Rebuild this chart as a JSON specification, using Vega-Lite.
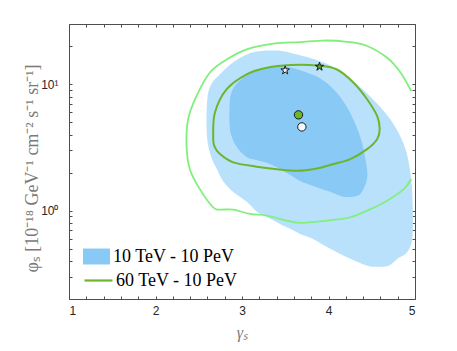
{
  "$schema": "https://vega.github.io/schema/vega-lite/v6.json",
  "autosize": "none",
  "width": 346,
  "height": 275,
  "padding": {"left": 69, "top": 24, "right": 42, "bottom": 52},
  "background": "white",
  "config": {
    "view": {"stroke": "#4d4d4d", "strokeWidth": 1},
    "axis": {"grid": false, "domain": false, "tickColor": "#4d4d4d", "tickWidth": 1, "labelFont": "Liberation Sans", "labelFontSize": 12, "labelColor": "#262626", "labelOverlap": false, "titleColor": "#7a7a7a", "titleFontWeight": "normal"}
  },
  "datasets": {
    "outer": [
      {"i":1,"x":2.591,"y":6.15},{"i":2,"x":2.606,"y":8.34},{"i":3,"x":2.652,"y":10.2},{"i":4,"x":2.745,"y":12.0},{"i":5,"x":2.896,"y":14.9},{"i":6,"x":3.128,"y":17.9},{"i":7,"x":3.406,"y":18.5},{"i":8,"x":3.638,"y":17.2},{"i":9,"x":3.904,"y":15.2},{"i":10,"x":4.136,"y":12.7},{"i":11,"x":4.368,"y":9.47},{"i":12,"x":4.601,"y":6.57},{"i":13,"x":4.774,"y":4.58},{"i":14,"x":4.89,"y":3.07},{"i":15,"x":4.948,"y":1.95},{"i":16,"x":4.971,"y":1.24},{"i":17,"x":4.971,"y":0.631},{"i":18,"x":4.913,"y":0.472},{"i":19,"x":4.797,"y":0.416},{"i":20,"x":4.693,"y":0.366},{"i":21,"x":4.565,"y":0.36},{"i":22,"x":4.449,"y":0.366},{"i":23,"x":4.252,"y":0.416},{"i":24,"x":4.02,"y":0.499},{"i":25,"x":3.823,"y":0.598},{"i":26,"x":3.672,"y":0.655},{"i":27,"x":3.557,"y":0.718},{"i":28,"x":3.441,"y":0.786},{"i":29,"x":3.29,"y":0.892},{"i":30,"x":3.174,"y":0.977},{"i":31,"x":3.058,"y":1.17},{"i":32,"x":2.896,"y":1.41},{"i":33,"x":2.78,"y":1.72},{"i":34,"x":2.71,"y":2.13},{"i":35,"x":2.652,"y":2.56},{"i":36,"x":2.606,"y":3.36},{"i":37,"x":2.591,"y":4.42}
    ],
    "inner": [
      {"i":1,"x":2.855,"y":6.36},{"i":2,"x":2.867,"y":8.04},{"i":3,"x":2.907,"y":9.47},{"i":4,"x":2.988,"y":10.9},{"i":5,"x":3.093,"y":12.2},{"i":6,"x":3.232,"y":13.4},{"i":7,"x":3.406,"y":13.9},{"i":8,"x":3.557,"y":13.6},{"i":9,"x":3.672,"y":12.9},{"i":10,"x":3.904,"y":11.1},{"i":11,"x":4.101,"y":8.49},{"i":12,"x":4.252,"y":5.9},{"i":13,"x":4.368,"y":3.82},{"i":14,"x":4.426,"y":2.56},{"i":15,"x":4.449,"y":1.88},{"i":16,"x":4.403,"y":1.48},{"i":17,"x":4.333,"y":1.31},{"i":18,"x":4.171,"y":1.29},{"i":19,"x":4.02,"y":1.41},{"i":20,"x":3.823,"y":1.57},{"i":21,"x":3.672,"y":1.72},{"i":22,"x":3.522,"y":1.98},{"i":23,"x":3.325,"y":2.34},{"i":24,"x":3.174,"y":2.51},{"i":25,"x":3.058,"y":2.65},{"i":26,"x":2.942,"y":3.18},{"i":27,"x":2.872,"y":4.03},{"i":28,"x":2.855,"y":5.1}
    ],
    "c1": [
      {"i":1,"x":2.667,"y":3.91},{"i":2,"x":2.687,"y":5.98},{"i":3,"x":2.823,"y":9.14},{"i":4,"x":3.054,"y":12.0},{"i":5,"x":3.287,"y":13.5},{"i":6,"x":3.557,"y":14.2},{"i":7,"x":3.866,"y":14.1},{"i":8,"x":4.098,"y":13.1},{"i":9,"x":4.29,"y":10.3},{"i":10,"x":4.446,"y":7.62},{"i":11,"x":4.562,"y":5.62},{"i":12,"x":4.592,"y":4.42},{"i":13,"x":4.562,"y":3.68},{"i":14,"x":4.446,"y":3.07},{"i":15,"x":4.252,"y":2.56},{"i":16,"x":4.059,"y":2.34},{"i":17,"x":3.866,"y":2.16},{"i":18,"x":3.634,"y":2.07},{"i":19,"x":3.402,"y":2.13},{"i":20,"x":3.17,"y":2.23},{"i":21,"x":2.899,"y":2.41},{"i":22,"x":2.745,"y":2.81},{"i":23,"x":2.679,"y":3.26}
    ],
    "c2": [
      {"i":1,"x":4.956,"y":8.85},{"i":2,"x":4.832,"y":12.4},{"i":3,"x":4.678,"y":16.2},{"i":4,"x":4.446,"y":20.1},{"i":5,"x":4.214,"y":21.7},{"i":6,"x":3.943,"y":22.2},{"i":7,"x":3.672,"y":21.6},{"i":8,"x":3.363,"y":21.0},{"i":9,"x":3.054,"y":18.9},{"i":10,"x":2.823,"y":15.7},{"i":11,"x":2.629,"y":12.4},{"i":12,"x":2.475,"y":8.09},{"i":13,"x":2.377,"y":5.3},{"i":14,"x":2.359,"y":3.26},{"i":15,"x":2.397,"y":2.13},{"i":16,"x":2.513,"y":1.48},{"i":17,"x":2.667,"y":1.06},{"i":18,"x":2.745,"y":1.02},{"i":19,"x":2.899,"y":1.02},{"i":20,"x":3.093,"y":0.942},{"i":21,"x":3.287,"y":0.914},{"i":22,"x":3.518,"y":0.834},{"i":23,"x":3.672,"y":0.8},{"i":24,"x":3.866,"y":0.819},{"i":25,"x":4.059,"y":0.845},{"i":26,"x":4.252,"y":0.887},{"i":27,"x":4.446,"y":1.0},{"i":28,"x":4.678,"y":1.2},{"i":29,"x":4.87,"y":1.48},{"i":30,"x":4.956,"y":1.78}
    ],
    "circles": [
      {"kind":"filled","x":3.653,"y":5.73},
      {"kind":"open","x":3.692,"y":4.6}
    ],
    "stars": [
      {"kind":"open","x":3.499,"y":12.9},
      {"kind":"filled","x":3.896,"y":13.8}
    ]
  },
  "layer": [
    {
      "data": {"name": "outer"},
      "mark": {"type": "line", "fill": "#b9e1fb", "stroke": null, "interpolate": "cardinal-closed"},
      "encoding": {
        "x": {"field": "x", "type": "quantitative", "scale": {"domain": [1, 5], "nice": false, "zero": false},
          "axis": {"orient": "bottom", "values": [1,1.2,1.4,1.6,1.8,2,2.2,2.4,2.6,2.8,3,3.2,3.4,3.6,3.8,4,4.2,4.4,4.6,4.8,5], "tickSize": -3, "labelPadding": 9, "labelExpr": "abs(datum.value - round(datum.value)) < 0.001 ? format(datum.value, 'd') : ''", "title": "γₛ", "titleFont": "Liberation Serif", "titleFontStyle": "italic", "titleFontSize": 16, "titleBaseline": "middle", "titleY": 33}},
        "y": {"field": "y", "type": "quantitative", "scale": {"type": "log", "domain": [0.2, 30], "nice": false},
          "axis": {"orient": "left", "values": [0.2,0.3,0.4,0.5,0.6,0.7,0.8,0.9,1,2,3,4,5,6,7,8,9,10,20,30], "tickSize": -3, "labelPadding": 14, "labelExpr": "datum.value == 1 ? '10⁰' : (datum.value == 10 ? '10¹' : '')", "title": "φₛ [10⁻¹⁸ GeV⁻¹ cm⁻² s⁻¹ sr⁻¹]", "titleFont": "Liberation Serif", "titleFontSize": 18, "titleBaseline": "middle", "titleAlign": "center", "titleX": -37, "titleY": 144, "titleAngle": 270}},
        "order": {"field": "i", "type": "quantitative"}
      }
    },
    {
      "data": {"name": "inner"},
      "mark": {"type": "line", "stroke": null, "interpolate": "cardinal-closed"},
      "encoding": {
        "x": {"field": "x", "type": "quantitative", "axis": {"orient": "top", "values": [1,1.2,1.4,1.6,1.8,2,2.2,2.4,2.6,2.8,3,3.2,3.4,3.6,3.8,4,4.2,4.4,4.6,4.8,5], "tickSize": -3, "labels": false, "title": null}},
        "y": {"field": "y", "type": "quantitative", "axis": {"orient": "right", "values": [0.2,0.3,0.4,0.5,0.6,0.7,0.8,0.9,1,2,3,4,5,6,7,8,9,10,20,30], "tickSize": -3, "labels": false, "title": null}},
        "order": {"field": "i", "type": "quantitative"},
        "fill": {"datum": "10 TeV - 10 PeV", "type": "nominal", "scale": {"range": ["#88c9f5"]},
          "legend": {"orient": "none", "legendX": 14, "legendY": 219, "title": null, "padding": 0, "symbolType": "M-1,-0.59H1V0.59H-1Z", "symbolSize": 729, "symbolStrokeWidth": 0, "labelFont": "Liberation Serif", "labelFontSize": 18, "labelColor": "#000000", "labelOffset": 3}}
      }
    },
    {
      "data": {"name": "c2"},
      "mark": {"type": "line", "stroke": "#80ef7c", "strokeWidth": 1.8, "interpolate": "cardinal", "clip": true},
      "encoding": {
        "x": {"field": "x", "type": "quantitative", "axis": null},
        "y": {"field": "y", "type": "quantitative", "axis": null},
        "order": {"field": "i", "type": "quantitative"}
      }
    },
    {
      "data": {"name": "c1"},
      "mark": {"type": "line", "strokeWidth": 2, "interpolate": "cardinal-closed"},
      "encoding": {
        "x": {"field": "x", "type": "quantitative", "axis": null},
        "y": {"field": "y", "type": "quantitative", "axis": null},
        "order": {"field": "i", "type": "quantitative"},
        "stroke": {"datum": "60 TeV - 10 PeV", "type": "nominal", "scale": {"range": ["#6cb52d"]},
          "legend": {"orient": "none", "legendX": 14, "legendY": 241, "title": null, "padding": 0, "symbolType": "stroke", "symbolSize": 784, "symbolStrokeWidth": 2.2, "labelFont": "Liberation Serif", "labelFontSize": 18, "labelColor": "#000000", "labelOffset": 2}}
      }
    },
    {
      "data": {"name": "circles"},
      "mark": {"type": "point", "shape": "circle", "size": 70, "stroke": "#1a1a1a", "strokeWidth": 1, "opacity": 1},
      "encoding": {
        "x": {"field": "x", "type": "quantitative", "axis": null},
        "y": {"field": "y", "type": "quantitative", "axis": null},
        "fill": {"field": "kind", "type": "nominal", "scale": {"domain": ["filled", "open"], "range": ["#6cb52d", "#f4f8fc"]}, "legend": null}
      }
    },
    {
      "data": {"name": "stars"},
      "mark": {"type": "point", "shape": "M0,-1L0.2245,-0.309L0.951,-0.309L0.363,0.118L0.588,0.809L0,0.382L-0.588,0.809L-0.363,0.118L-0.951,-0.309L-0.2245,-0.309Z", "size": 80, "stroke": "#1a1a1a", "strokeWidth": 1, "opacity": 1},
      "encoding": {
        "x": {"field": "x", "type": "quantitative", "axis": null},
        "y": {"field": "y", "type": "quantitative", "axis": null},
        "fill": {"field": "kind", "type": "nominal", "scale": {"domain": ["filled", "open"], "range": ["#5ea62a", "#f4f8fc"]}, "legend": null}
      }
    }
  ],
  "resolve": {"axis": {"x": "independent", "y": "independent"}, "scale": {"fill": "independent"}}
}
